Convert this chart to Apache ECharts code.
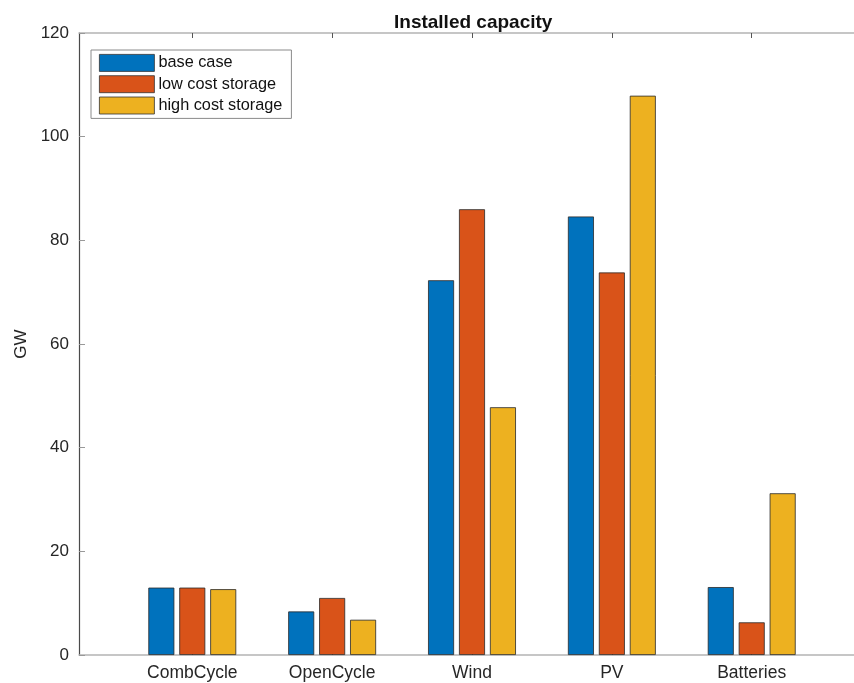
<!DOCTYPE html>
<html>
<head>
<meta charset="utf-8">
<script src="https://cdn.jsdelivr.net/npm/echarts@6/dist/echarts.min.js"></script>
<style>
html,body{margin:0;padding:0;background:#fff;overflow:hidden;}
#chart{width:854px;height:683px;}
</style>
</head>
<body>
<div id="chart"></div>
<script>
const categories = ['CombCycle', 'OpenCycle', 'Wind', 'PV', 'Batteries'];
const seriesNames = ['base case', 'low cost storage', 'high cost storage'];
const baseCase = [13.0, 8.4, 72.3, 84.6, 13.1];
const lowCostStorage = [13.0, 11.0, 86.0, 73.8, 6.3];
const highCostStorage = [12.7, 6.8, 47.8, 107.9, 31.2];
const yTicks = [0, 20, 40, 60, 80, 100, 120];
const colors = ['#0072BD', '#D95319', '#EDB120'];
const positions = categories.map((c, i) => i + 1);

const FONT = '"Liberation Sans", Arial, Helvetica, sans-serif';
const chart = echarts.init(document.getElementById('chart'), null, {renderer: 'canvas'});

function mk(vals, idx) {
  return {
    name: seriesNames[idx],
    type: 'bar',
    xAxisIndex: 0,
    yAxisIndex: 0,
    barWidth: 26,
    barGap: '19%',
    data: vals.map((v, i) => [positions[i], v]),
    itemStyle: {color: colors[idx], borderColor: '#2a2a2a', borderWidth: 0.8},
    emphasis: {disabled: true}
  };
}

chart.setOption({
  animation: false,
  title: {
    text: 'Installed capacity',
    left: 389, top: 8,
    textStyle: {fontFamily: FONT, fontSize: 19, fontWeight: 'bold', color: '#111'}
  },
  legend: {
    left: 91, top: 50,
    orient: 'vertical',
    itemWidth: 55, itemHeight: 17, itemGap: 3.5,
    padding: [4, 9, 4, 8],
    backgroundColor: '#fff',
    borderColor: '#8a8a8a', borderWidth: 1,
    icon: 'rect',
    itemStyle: {borderWidth: 0.8, borderColor: '#333'},
    textStyle: {fontFamily: FONT, fontSize: 16.3, color: '#111', padding: [0, 0, 0, -1]},
    data: seriesNames
  },
  grid: {left: 79, width: 786, top: 33, bottom: 28, containLabel: false, outerBoundsMode: 'none'},
  xAxis: [{
    type: 'value', position: 'bottom',
    min: 0.19, max: 5.81,
    splitLine: {show: false},
    axisLine: {show: true, lineStyle: {color: '#b4b4b4', width: 1.5}},
    axisTick: {show: true, inside: true, length: 5, customValues: positions, lineStyle: {color: '#555'}},
    axisLabel: {
      show: true, margin: 9, customValues: positions,
      fontFamily: FONT, fontSize: 17.5, color: '#262626',
      formatter: v => categories[Math.round(v) - 1] || ''
    }
  }, {
    type: 'value', position: 'top',
    min: 0.19, max: 5.81,
    splitLine: {show: false},
    axisLine: {show: true, lineStyle: {color: '#b4b4b4', width: 1.5}},
    axisTick: {show: true, inside: true, length: 5, customValues: positions, lineStyle: {color: '#555'}},
    axisLabel: {show: false}
  }],
  yAxis: {
    type: 'value', min: 0, max: 120, interval: 20,
    name: 'GW', nameLocation: 'middle', nameGap: 45, nameRotate: 90,
    nameTextStyle: {fontFamily: FONT, fontSize: 17, color: '#262626'},
    splitLine: {show: false},
    axisLine: {show: true, lineStyle: {color: '#4a4a4a', width: 1.2}},
    axisTick: {show: true, inside: true, length: 6, lineStyle: {color: '#999'}},
    axisLabel: {
      fontFamily: FONT, fontSize: 17, color: '#262626', margin: 10,
      customValues: yTicks
    }
  },
  series: [mk(baseCase, 0), mk(lowCostStorage, 1), mk(highCostStorage, 2)]
});
</script>
</body>
</html>
